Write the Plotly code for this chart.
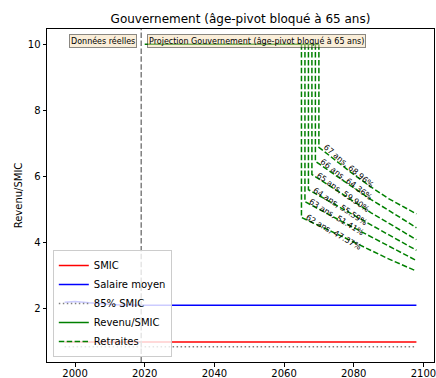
import plotly.graph_objects as go

FONT = "DejaVu Sans"

# ---- data ----
SMIC_YEARS = [1997, 2098]
SMIC_VALUES = [1.0, 1.0]

SALAIRE_YEARS = [1997, 2000, 2004, 2008, 2012, 2019, 2098]
SALAIRE_VALUES = [2.20, 2.22, 2.18, 2.14, 2.12, 2.11, 2.11]

SMIC85_YEARS = [1997, 2098]
SMIC85_VALUES = [0.85, 0.85]

REVENU_YEARS = [2020, 2070]
REVENU_VALUES = [10.0, 10.0]

SPLIT_YEAR = 2019

RETRAITE_AGES = [62, 63, 64, 65, 66, 67]
RETRAITE_PCT = [47.37, 51.41, 55.59, 59.90, 64.36, 68.96]
RETRAITE_START = [2065, 2066, 2067, 2068, 2069, 2070]
RETRAITE_LATER_YEARS = [2075, 2080, 2085, 2090, 2098]
RETRAITE_CAP = 10.0
RETRAITE_62 = [4.76, 4.27, 4.01, 3.76, 3.51, 3.14]
RETRAITE_63 = [5.24, 4.73, 4.46, 4.18, 3.90, 3.46]
RETRAITE_64 = [5.60, 5.13, 4.83, 4.52, 4.24, 3.77]
RETRAITE_65 = [6.06, 5.59, 5.24, 4.90, 4.59, 4.09]
RETRAITE_66 = [6.46, 6.02, 5.65, 5.30, 4.98, 4.45]
RETRAITE_67 = [6.88, 6.47, 6.06, 5.68, 5.33, 4.87]
RETRAITE_VALUES = [RETRAITE_62, RETRAITE_63, RETRAITE_64,
                   RETRAITE_65, RETRAITE_66, RETRAITE_67]
RETRAITE_LABEL_ANGLE = [30, 31.5, 33, 35, 37, 40]

X_TICKS = [2000, 2020, 2040, 2060, 2080, 2100]
Y_TICKS = [2, 4, 6, 8, 10]

TITLE = "Gouvernement (âge-pivot bloqué à 65 ans)"
LABEL_REEL = "Données réelles"
LABEL_PROJ = "Projection Gouvernement (âge-pivot bloqué à 65 ans)"

GREEN = "#008000"

fig = go.Figure()

fig.add_trace(go.Scatter(x=SMIC_YEARS, y=SMIC_VALUES, mode="lines", name="SMIC",
                         line=dict(color="red", width=1.5)))
fig.add_trace(go.Scatter(x=SALAIRE_YEARS, y=SALAIRE_VALUES, mode="lines", name="Salaire moyen",
                         line=dict(color="blue", width=1.5)))
fig.add_trace(go.Scatter(x=SMIC85_YEARS, y=SMIC85_VALUES, mode="lines", name="85% SMIC",
                         line=dict(color="gray", width=1.5, dash="1.5px,2.5px")))
fig.add_trace(go.Scatter(x=REVENU_YEARS, y=REVENU_VALUES, mode="lines", name="Revenu/SMIC",
                         line=dict(color=GREEN, width=1.5)))

for i, (age, pct, start, vals, ang) in enumerate(zip(RETRAITE_AGES, RETRAITE_PCT,
                                                     RETRAITE_START, RETRAITE_VALUES,
                                                     RETRAITE_LABEL_ANGLE)):
    xs = [start, start] + RETRAITE_LATER_YEARS
    ys = [RETRAITE_CAP] + vals
    fig.add_trace(go.Scatter(x=xs, y=ys, mode="lines", name="Retraites",
                             legendgroup="retraites", showlegend=(i == 0),
                             line=dict(color=GREEN, width=1.5, dash="5.5px,2.4px")))
    fig.add_annotation(x=start, y=vals[0], text=f"{age} ans, {pct:.2f}%",
                       textangle=ang, showarrow=False, xanchor="left", yanchor="top",
                       xshift=0, yshift=7,
                       font=dict(family=FONT, size=8, color="black"))

fig.add_vline(x=SPLIT_YEAR, line=dict(color="gray", width=1.5, dash="5.5px,2.4px"))

box = dict(showarrow=False, font=dict(family=FONT, size=8, color="black"),
           bgcolor="rgba(245,222,179,0.5)", bordercolor="rgba(0,0,0,0.45)",
           borderwidth=1, borderpad=1, yanchor="middle")
fig.add_annotation(x=2008, y=10.1, text=LABEL_REEL, xanchor="center", **box)
fig.add_annotation(x=2020.6, y=10.1, text=LABEL_PROJ, xanchor="left", **box)

axis_common = dict(showgrid=False, zeroline=False, showline=True, mirror=True,
                   linecolor="black", linewidth=1, ticks="outside", ticklen=3.5,
                   tickwidth=0.8, tickcolor="black",
                   tickfont=dict(family=FONT, size=10, color="black"),
                   automargin=False, ticklabeloverflow="allow")

fig.update_layout(
    width=436, height=378,
    template="none",
    paper_bgcolor="white", plot_bgcolor="white",
    margin=dict(l=47, r=2, t=29, b=16, pad=0),
    title=dict(text=TITLE, x=0.5, xref="paper", xanchor="center",
               y=1 - 19 / 378, yref="container", yanchor="middle",
               font=dict(family=FONT, size=12, color="black")),
    xaxis=dict(range=[1991.95, 2103.05], tickvals=X_TICKS, ticklabelstandoff=-2,
               **axis_common),
    yaxis=dict(range=[0.3925, 10.4575], tickvals=Y_TICKS,
               title=dict(text="Revenu/SMIC", standoff=3,
                          font=dict(family=FONT, size=10, color="black")),
               **axis_common),
    legend=dict(x=0.015, y=0.015, xanchor="left", yanchor="bottom",
                bgcolor="rgba(255,255,255,0.8)", bordercolor="#cccccc", borderwidth=1,
                font=dict(family=FONT, size=10, color="black"),
                tracegroupgap=0),
    showlegend=True,
)

fig.write_html(
    "out.html",
    config={"displayModeBar": False},
    post_script="document.body.style.margin='0';document.body.style.overflow='hidden';",
)
